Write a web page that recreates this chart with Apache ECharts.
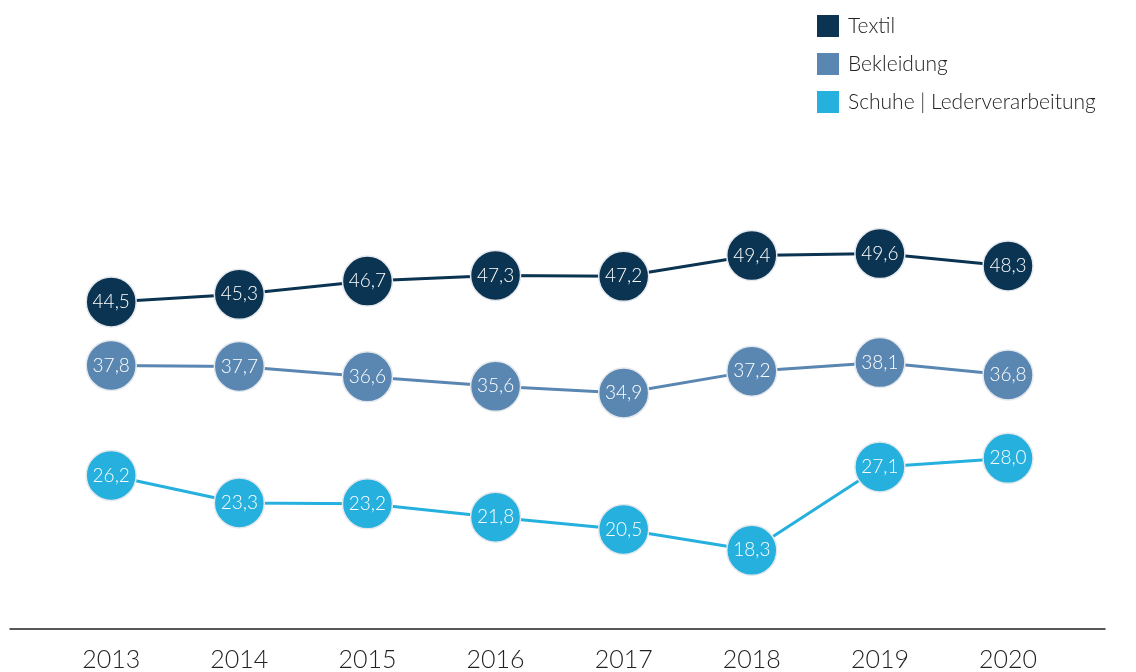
<!DOCTYPE html>
<html>
<head>
<meta charset="utf-8">
<script src="https://cdn.jsdelivr.net/npm/echarts@6/dist/echarts.min.js"></script>
<style>
  html, body { margin: 0; padding: 0; background: #fff; }
  #chart { width: 1136px; height: 672px; }
</style>
</head>
<body>
<div id="chart"></div>
<script>
// Anteile je Branche
const years = [2013, 2014, 2015, 2016, 2017, 2018, 2019, 2020];
const textil = [44.5, 45.3, 46.7, 47.3, 47.2, 49.4, 49.6, 48.3];
const bekleidung = [37.8, 37.7, 36.6, 35.6, 34.9, 37.2, 38.1, 36.8];
const schuhe = [26.2, 23.3, 23.2, 21.8, 20.5, 18.3, 27.1, 28.0];
const seriesNames = ['Textil', 'Bekleidung', 'Schuhe | Lederverarbeitung'];
const colors = ['#0b3452', '#5a87b2', '#25b0de'];

const font = 'Lato, "Open Sans", sans-serif';

function makeSeries(name, values, color) {
  return {
    name: name,
    type: 'line',
    data: values.map((v, i) => [years[i], v]),
    symbol: 'circle',
    symbolSize: 50,
    lineStyle: { color: color, width: 3 },
    itemStyle: { color: color, borderColor: '#e4e8ec', borderWidth: 1.5 },
    label: {
      show: true,
      position: 'inside',
      color: '#fff',
      fontFamily: font,
      fontWeight: 300,
      fontSize: 19,
      formatter: (p) => p.value[1].toFixed(1).replace('.', ',')
    },
    emphasis: { disabled: true },
    z: 2
  };
}

let chart = echarts.init(document.getElementById('chart'));
chart.setOption({
  animation: false,
  legend: {
    orient: 'vertical',
    left: 812,
    top: 10,
    itemWidth: 22,
    itemHeight: 22,
    itemGap: 16,
    textStyle: { fontSize: 21, color: '#222', fontFamily: font, fontWeight: 300, padding: [0, 0, 0, 4] },
    data: seriesNames.map((n, i) => ({ name: n, icon: 'rect', itemStyle: { color: colors[i], borderWidth: 0 } }))
  },
  grid: { left: 10, right: 31, top: 155, bottom: 42 },
  xAxis: {
    type: 'value',
    min: 2012.21,
    max: 2020.757,
    splitLine: { show: false },
    axisLine: { show: true, onZero: false, lineStyle: { color: '#222', width: 1.5 } },
    axisTick: { show: false },
    axisLabel: {
      customValues: years,
      margin: 18,
      fontSize: 25,
      color: '#222',
      fontFamily: font,
      fontWeight: 300,
      formatter: (v) => String(v)
    }
  },
  yAxis: {
    type: 'value',
    min: 10,
    max: 60,
    show: false
  },
  series: [
    makeSeries(seriesNames[0], textil, colors[0]),
    makeSeries(seriesNames[1], bekleidung, colors[1]),
    makeSeries(seriesNames[2], schuhe, colors[2])
  ]
});
</script>
</body>
</html>
